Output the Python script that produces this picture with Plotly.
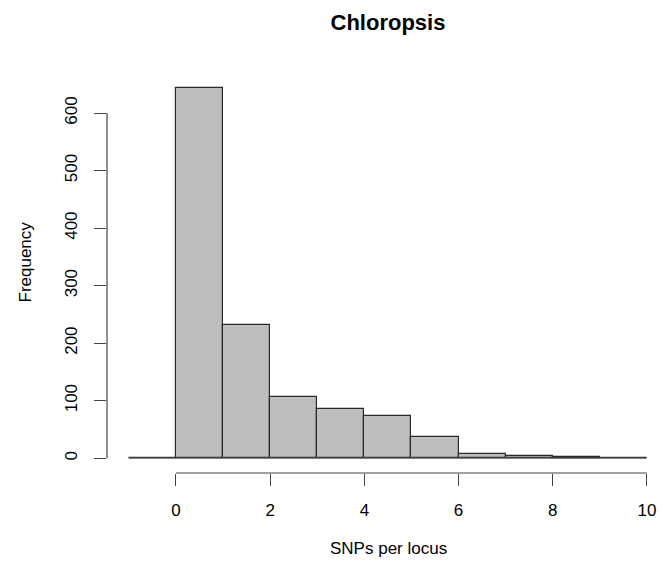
import plotly.graph_objects as go

# Histogram data (bin edges and counts)
breaks = [-1, 0, 1, 2, 3, 4, 5, 6, 7, 8, 9, 10]
counts = [0, 644, 231, 107, 86, 74, 36, 7, 4, 2, 0]
x_ticks = [0, 2, 4, 6, 8, 10]
y_ticks = [0, 100, 200, 300, 400, 500, 600]
title_text = "Chloropsis"
x_label = "SNPs per locus"
y_label = "Frequency"

mids = [(breaks[i] + breaks[i + 1]) / 2 for i in range(len(counts))]
widths = [breaks[i + 1] - breaks[i] for i in range(len(counts))]

FONT = "Liberation Sans, Arial, Helvetica, sans-serif"
AX = "#444444"

fig = go.Figure()
fig.add_trace(go.Bar(
    x=mids, y=counts, width=widths,
    marker=dict(color="#BEBEBE", line=dict(color="#2a2a2a", width=1.2)),
    hoverinfo="x+y", showlegend=False,
))
# zero baseline across the full break range
fig.add_trace(go.Scatter(
    x=[breaks[0], breaks[-1]], y=[0, 0], mode="lines",
    line=dict(color="#555555", width=1.2), hoverinfo="skip", showlegend=False,
))

ymax = max(counts)
ypad = 0.04 * ymax
fig.update_layout(
    width=662, height=571, autosize=False,
    margin=dict(l=107, r=0, t=73, b=98),
    plot_bgcolor="white", paper_bgcolor="white",
    font=dict(family=FONT, size=17, color="black"),
    bargap=0,
    title=dict(text=title_text, x=388 / 662, xanchor="center", xref="container",
               y=1 - 22 / 571, yanchor="middle", yref="container",
               font=dict(family=FONT, size=22, color="black", weight="bold")),
    xaxis=dict(range=[-1.465, 10.32], tickvals=x_ticks, ticks="outside", ticklen=12,
               tickcolor=AX, tickwidth=1.2, showline=False, showgrid=False, zeroline=False,
               ticklabelstandoff=10, tickfont=dict(size=17)),
    yaxis=dict(range=[-ypad, ymax + ypad], tickvals=y_ticks, ticks="outside", ticklen=12,
               tickcolor=AX, tickwidth=1.2, showline=False, showgrid=False, zeroline=False,
               tickangle=-90, ticklabelstandoff=10, tickfont=dict(size=17)),
    shapes=[
        dict(type="line", xref="x", yref="paper", x0=x_ticks[0], x1=x_ticks[-1], y0=0, y1=0,
             line=dict(color=AX, width=1.2)),
        dict(type="line", xref="paper", yref="y", x0=0, x1=0, y0=y_ticks[0], y1=y_ticks[-1],
             line=dict(color=AX, width=1.2)),
    ],
    annotations=[
        dict(text=x_label, xref="paper", yref="paper", x=(388 - 107) / 555, y=(473 - 548) / 400,
             xanchor="center", yanchor="middle", showarrow=False, font=dict(size=17)),
        dict(text=y_label, xref="paper", yref="paper", x=(25 - 107) / 555, y=(473 - 262.5) / 400,
             xanchor="center", yanchor="middle", textangle=-90, showarrow=False, font=dict(size=17)),
    ],
)

fig.write_html("out.html")
